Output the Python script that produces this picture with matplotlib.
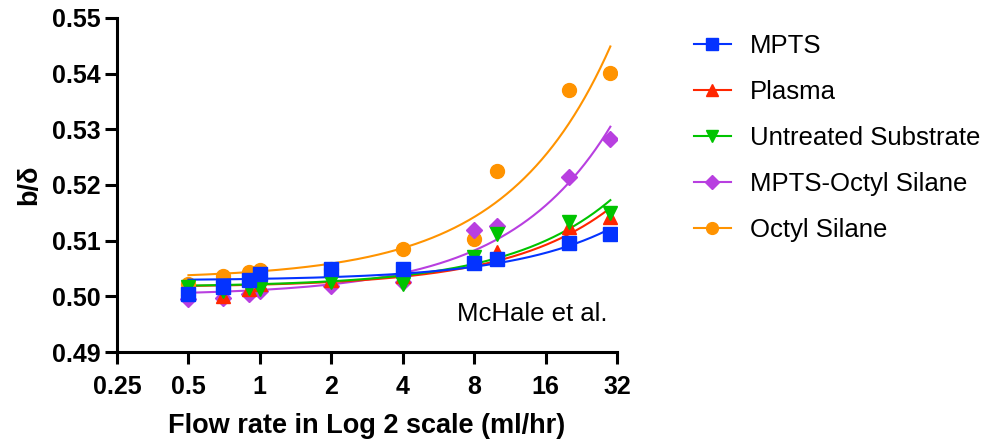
import numpy as np
import matplotlib
matplotlib.use("Agg")
import matplotlib.pyplot as plt

plt.rcParams['font.family'] = ['Liberation Sans', 'DejaVu Sans']

flow = [0.5, 0.7, 0.9, 1, 2, 4, 8, 10, 20, 30]
mpts = [0.5004, 0.5016, 0.5029, 0.5040, 0.5050, 0.5050, 0.5059, 0.5067, 0.5096, 0.5112]
plasma = [0.5015, 0.5000, 0.5013, 0.5023, 0.5030, 0.5036, 0.5066, 0.5080, 0.5124, 0.5142]
untreated = [0.5017, 0.5010, 0.5015, 0.5014, 0.5025, 0.5022, 0.5070, 0.5112, 0.5133, 0.5150]
mpts_octyl = [0.4995, 0.4997, 0.5005, 0.5010, 0.5018, 0.5025, 0.5120, 0.5126, 0.5214, 0.5283]
octyl = [0.5023, 0.5036, 0.5043, 0.5047, 0.5050, 0.5085, 0.5103, 0.5225, 0.5370, 0.5402]

names = ["MPTS", "Plasma", "Untreated Substrate", "MPTS-Octyl Silane", "Octyl Silane"]
series = [mpts, plasma, untreated, mpts_octyl, octyl]
colors = ['#0433FF', '#FF2600', '#00C400', '#B83FE0', '#FF9300']
markers = ['s', '^', 'v', 'D', 'o']
msizes = [10, 10, 10, 8, 10]
zorders = [10, 7, 8, 6, 5]

fig = plt.figure(figsize=(9.95, 4.41), dpi=100)
ax = fig.add_axes([0.1176, 0.2018, 0.5025, 0.7574])

xfit = np.linspace(0.5, 30, 300)
handles = []
for name, ys, c, m, ms, z in zip(names, series, colors, markers, msizes, zorders):
    coef = np.polyfit(flow, ys, 1)
    ax.plot(xfit, np.polyval(coef, xfit), color=c, lw=1.5, zorder=z - 4)
    ax.plot(flow, ys, ls='none', marker=m, ms=ms, color=c, mec=c, zorder=z)
    h, = ax.plot([], [], color=c, lw=1.5, marker=m, ms=ms * 0.85)
    handles.append(h)

ax.set_xscale('log', base=2)
ax.set_xlim(0.25, 32)
ax.set_ylim(0.49, 0.55)
xt = [0.25, 0.5, 1, 2, 4, 8, 16, 32]
ax.set_xticks(xt)
ax.set_xticklabels(['0.25', '0.5', '1', '2', '4', '8', '16', '32'])
ax.minorticks_off()
ax.set_yticks(np.arange(0.49, 0.5501, 0.01))
ax.set_yticklabels(['%.2f' % v for v in np.arange(0.49, 0.5501, 0.01)])

for s in ['top', 'right']:
    ax.spines[s].set_visible(False)
for s in ['left', 'bottom']:
    ax.spines[s].set_linewidth(2.2)
ax.tick_params(width=2.2, length=8.5, labelsize=18)
ax.tick_params(axis='x', pad=8)
ax.tick_params(axis='y', pad=3)
for lab in ax.get_xticklabels() + ax.get_yticklabels():
    lab.set_fontweight('bold')

ax.set_xlabel("Flow rate in Log 2 scale (ml/hr)", fontsize=19.5, fontweight='bold', labelpad=10)
ax.set_ylabel("b/\u03b4", fontsize=19.5, fontweight='bold', labelpad=7)

ax.text(0.982, 0.093, "McHale et al.", transform=ax.transAxes, ha='right', va='baseline', fontsize=18.5)

fig.legend(handles, names, loc='upper left', bbox_to_anchor=(0.674, 0.975), frameon=False,
           fontsize=18.5, handlelength=1.45, labelspacing=0.85, handletextpad=0.75)

fig.savefig("out.png", dpi=100)
